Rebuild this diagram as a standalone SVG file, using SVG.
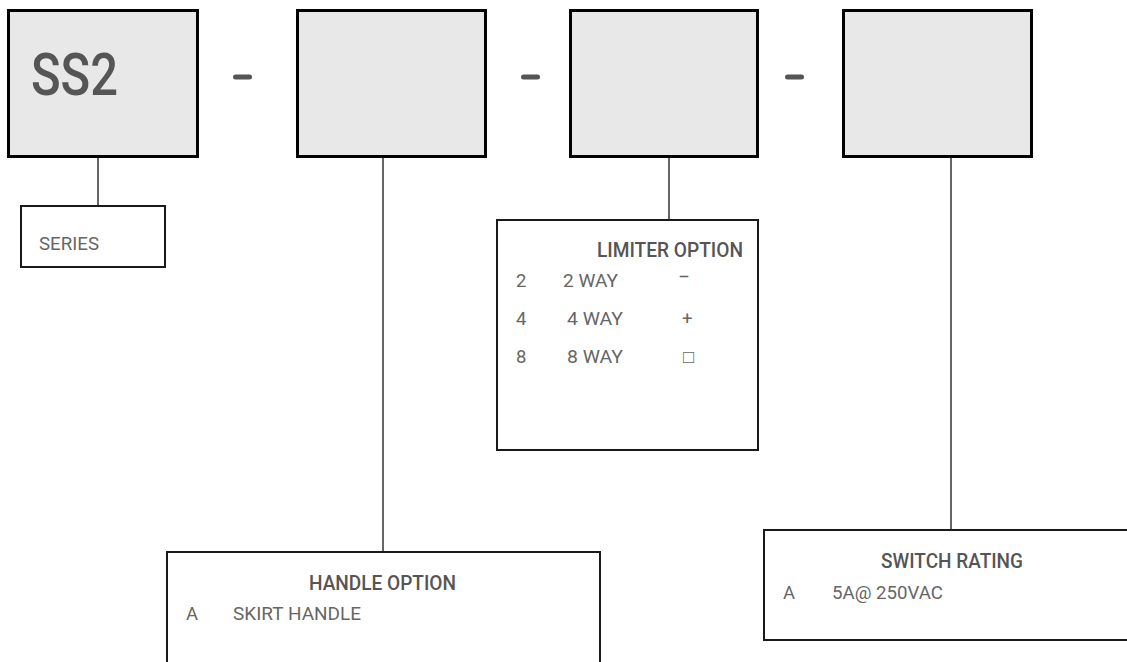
<svg xmlns="http://www.w3.org/2000/svg" width="1127" height="662" viewBox="0 0 1127 662">
<style>
.code{fill:#e8e8e8;stroke:#000;stroke-width:3}
.opt{fill:#fff;stroke:#1a1a1a;stroke-width:2}
.conn{stroke:#333;stroke-width:1.5;fill:none}
.dash{fill:#555}
.big{font-family:Roboto,"Liberation Sans",sans-serif;font-size:59px;font-weight:500;fill:#555}
.title{font-family:Roboto,"Liberation Sans",sans-serif;font-size:19.5px;font-weight:500;fill:#555}
.body{font-family:Roboto,"Liberation Sans",sans-serif;font-size:18.5px;font-weight:400;fill:#666}
</style>
<rect width="1127" height="662" fill="#fff"/>
<g id="connectors">
<line class="conn" x1="98" y1="158" x2="98" y2="205"/>
<line class="conn" x1="383" y1="158" x2="383" y2="551"/>
<line class="conn" x1="669" y1="158" x2="669" y2="219"/>
<line class="conn" x1="951" y1="158" x2="951" y2="529"/>
</g>
<g id="box-series-code">
<rect class="code" x="8.5" y="10.5" width="189" height="146"/>
<text class="big" x="31" y="95" textLength="87" lengthAdjust="spacingAndGlyphs">SS2</text>
</g>
<rect class="dash" x="233" y="74.5" width="19" height="5" rx="2.5"/>
<g id="box-handle-code">
<rect class="code" x="297.5" y="10.5" width="188" height="146"/>
</g>
<rect class="dash" x="521" y="74.5" width="19" height="5" rx="2.5"/>
<g id="box-limiter-code">
<rect class="code" x="570.5" y="10.5" width="187" height="146"/>
</g>
<rect class="dash" x="785" y="74.5" width="19" height="5" rx="2.5"/>
<g id="box-rating-code">
<rect class="code" x="843.5" y="10.5" width="188" height="146"/>
</g>
<g id="series">
<rect class="opt" x="21" y="206" width="144" height="61"/>
<text class="body" x="39" y="250" textLength="60" lengthAdjust="spacingAndGlyphs">SERIES</text>
</g>
<g id="limiter-option">
<rect class="opt" x="497" y="220" width="261" height="230"/>
<text class="title" x="597" y="257" textLength="146" lengthAdjust="spacingAndGlyphs">LIMITER OPTION</text>
<text class="body" x="516" y="287">2</text>
<text class="body" x="563" y="287" textLength="55" lengthAdjust="spacingAndGlyphs">2 WAY</text>
<text class="body" x="678" y="283" textLength="12" lengthAdjust="spacingAndGlyphs">−</text>
<text class="body" x="516" y="325">4</text>
<text class="body" x="567" y="325" textLength="56" lengthAdjust="spacingAndGlyphs">4 WAY</text>
<text class="body" x="682" y="325">+</text>
<text class="body" x="516" y="363">8</text>
<text class="body" x="567" y="363" textLength="56" lengthAdjust="spacingAndGlyphs">8 WAY</text>
<text class="body" x="683" y="363" font-family="DejaVu Sans" font-size="18">□</text>
</g>
<g id="handle-option">
<rect class="opt" x="167" y="552" width="433" height="200"/>
<text class="title" x="309" y="590" textLength="147" lengthAdjust="spacingAndGlyphs">HANDLE OPTION</text>
<text class="body" x="186" y="620">A</text>
<text class="body" x="233" y="620" textLength="128" lengthAdjust="spacingAndGlyphs">SKIRT HANDLE</text>
</g>
<g id="switch-rating">
<rect class="opt" x="764" y="530" width="400" height="110"/>
<text class="title" x="881" y="568" textLength="142" lengthAdjust="spacingAndGlyphs">SWITCH RATING</text>
<text class="body" x="783" y="599">A</text>
<text class="body" x="832" y="599" textLength="111" lengthAdjust="spacingAndGlyphs">5A@ 250VAC</text>
</g>
</svg>
